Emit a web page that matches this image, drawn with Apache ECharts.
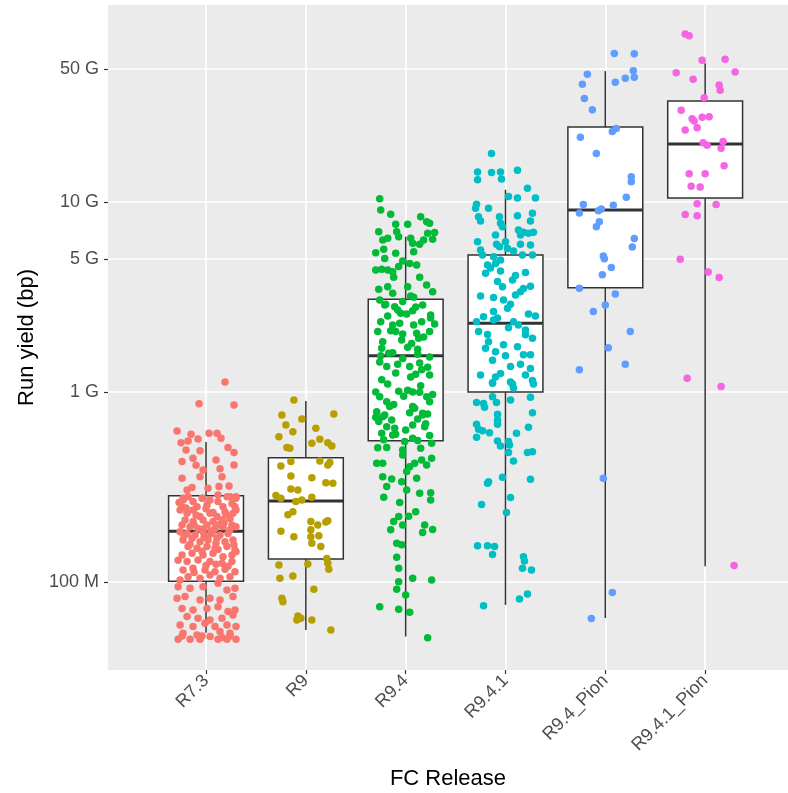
<!DOCTYPE html>
<html><head><meta charset="utf-8">
<script src="https://cdn.jsdelivr.net/npm/echarts@6/dist/echarts.min.js"></script>
<style>html,body{margin:0;padding:0;background:#fff}#c{width:788px;height:793px}</style>
</head><body><div id="c"></div>
<script>
const categories = ['R7.3','R9','R9.4','R9.4.1','R9.4_Pion','R9.4.1_Pion'];
const groupColors = ['#F8766D','#B79F00','#00BA38','#00BFC4','#619CFF','#F564E3'];
const yTickValues = [1e8, 1e9, 5e9, 1e10, 5e10];
const yTickLabels = ['100 M','1 G','5 G','10 G','50 G'];

// box stats in Gbp: [lower whisker, Q1, median, Q3, upper whisker]
const boxR73 = [0.054, 0.101, 0.185, 0.284, 0.546];
const boxR9 = [0.0559, 0.132, 0.267, 0.450, 0.897];
const boxR94 = [0.0516, 0.554, 1.55, 3.08, 6.57];
const boxR941 = [0.0757, 1.0, 2.30, 5.26, 11.6];
const boxR94P = [0.0646, 3.54, 9.08, 24.8, 48.9];
const boxR941P = [0.121, 10.5, 20.2, 34.0, 53.8];

// jittered points: [horizontal jitter (category units), run yield in Gbp]
const ptsR73 = [
[.19,1.13],[-.07,.868],[.28,.854],[-.29,.623],[-.15,.599],[.03,.607],[.11,.607],[-.25,.541],[-.18,.552],[-.08,.566],[.15,.571],[.22,.511],[.28,.48],[-.2,.495],[-.06,.49],[-.13,.448],[-.24,.43],[.1,.439],[.28,.413],[-.1,.411],[-.03,.389],[.14,.394],[-.24,.351],[-.06,.358],[.16,.358],[.02,.311],[.13,.318],[.23,.32],[-.19,.305],[-.14,.314],[-.23,.27],[-.03,.276],[.12,.287],[.24,.281],[.3,.281],
[-.23,.276],[-.18,.281],[-.13,.265],[-.04,.276],[.04,.27],[.12,.265],[.21,.281],[.26,.259],[.3,.276],[-.24,.249],[-.09,.249],[.01,.254],[.17,.249],[.29,.249],
[-.26,.239],[-.19,.23],[-.13,.239],[-.06,.221],[.04,.23],[.11,.221],[.19,.234],[.27,.23],[.3,.239],[-.21,.212],[-.13,.208],[-.03,.212],[.07,.208],[.16,.212],[.24,.216],
[-.24,.1995],[-.16,.1954],[-.08,.1914],[.01,.1995],[.09,.1914],[.17,.1954],[.26,.1995],[.3,.1954],[-.19,.18],[-.11,.1768],[-.03,.184],[.06,.18],[.14,.1768],[.22,.18],[-.26,.184],
[-.23,.1664],[-.14,.17],[-.06,.163],[.02,.1664],[.11,.17],[.19,.163],[.27,.1664],[-.18,.1535],[-.09,.1503],[.01,.1535],[.09,.1503],[.21,.1535],[.29,.147],
[-.24,.1387],[-.14,.1416],[-.03,.1387],[.07,.1416],[.17,.1358],[.26,.1387],[.3,.1444],[-.19,.128],[-.08,.1306],[.04,.128],[.16,.1253],[.26,.128],
[-.23,.1156],[-.13,.118],[-.01,.1156],[.09,.1133],[.19,.1166],[.29,.1133],[-.18,.1066],[-.06,.1045],[.04,.1088],[.14,.1045],[.24,.1066],[-.26,.1025],
[-.27,.262],[-.2,.245],[0,.243],[.2,.226],[-.1,.225],[.13,.2],[-.03,.19],[.05,.186],[.24,.188],[-.22,.175],[.02,.174],[.1,.16],[-.16,.158],[.28,.157],[-.04,.145],[.12,.148],[-.28,.13],[0,.122],[.22,.121],[-.12,.112],[.1,.124],[-.02,.172],[.18,.205],[-.12,.2],[.07,.232],
[-.28,.0945],[-.16,.0926],[-.03,.0945],[.12,.0984],[.21,.0908],[.29,.0926],[-.29,.082],[-.21,.0838],[-.06,.0804],[.04,.082],[.14,.0804],[.27,.0838],[-.24,.0726],[-.13,.0712],[.01,.0726],[.12,.0741],[.22,.0698],[.29,.0712],[-.19,.0657],[-.08,.0644],[.04,.0631],[.16,.0644],[.27,.067],[-.26,.0594],[-.13,.0582],[-.01,.0606],[.09,.0582],[.21,.0594],[.3,.0582],[-.23,.0537],[-.09,.0526],[.04,.0516],[.14,.0548],[.24,.0537],[-.28,.05],[-.16,.05],[-.04,.052],[.16,.051],[.21,.05],[.3,.05],[-.06,.05],[.12,.05],[.24,.052],[-.24,.052]
];
const ptsR9 = [
[-.12,.908],[-.24,.757],[.28,.766],[-.04,.721],[-.2,.67],[-.27,.582],[-.13,.618],[.1,.644],[.14,.564],[.06,.537],[.22,.541],[.26,.52],[-.19,.511],[-.16,.505],[-.25,.408],[-.15,.43],[.14,.433],[.22,.413],[.24,.426],[-.15,.361],[.06,.354],[.2,.333],[.27,.331],[-.15,.309],[-.08,.305],[-.3,.285],[-.25,.276],[-.1,.265],[-.04,.27],[.06,.279],[-.18,.226],[-.13,.234],[-.25,.185],[-.12,.173],[.05,.208],[.12,.1995],[.2,.207],[.22,.21],[.05,.188],[.13,.175],[.05,.173],[.06,.16],[.15,.1535],[.21,.133],[.22,.1253],[.23,.1166],[-.27,.123],[.02,.1244],[-.26,.1045],[-.13,.1076],[.08,.0915],[-.24,.082],[-.23,.0787],[-.08,.0662],[-.09,.0631],[-.05,.0644],[.06,.0631],[.25,.0559]
];
const ptsR94 = [
[-.26,10.4],[-.25,9.08],[-.15,8.61],[.15,8.37],[.21,7.87],[.24,7.72],[-.1,7.63],[.02,7.63],[-.27,6.98],[-.09,6.98],[.29,6.92],[.22,6.84],[-.23,6.31],[-.18,6.44],[.05,6.44],[.18,6.31],[.27,6.37],[-.07,6.57],[.07,6.06],[.14,5.99],[-.22,5.64],[-.3,5.41],[-.1,5.37],[.08,5.47],[-.21,5.05],[-.03,4.89],[.04,4.75],[.11,4.66],[-.3,4.39],[-.24,4.42],[-.18,4.39],[-.13,4.3],[-.07,4.57],[-.12,4.02],[.14,4.02],[.21,3.66],[-.27,3.47],[-.18,3.58],[.02,3.58],[.27,3.37],[-.13,3.31],[.05,3.2],[.08,3.15],[-.26,3.05],[-.21,2.87],[-.11,2.81],[-.03,2.99],[.17,2.87],[-.08,2.7],[.01,2.57],[.07,2.68],[-.18,2.51],[.25,2.54],[-.25,2.34],[-.13,2.25],[-.06,2.3],[.08,2.25],[.16,2.34],[.29,2.28],[-.28,2.08],[-.1,2.08],[-.03,2.02],[.11,2.04],[.24,2.08],[-.23,1.84],[-.04,1.88],[.06,1.8],[.13,1.92],[-.24,1.7],[-.17,1.6],[-.13,1.61],[.24,1.53],[.12,1.68],[-.03,1.5],[-.26,1.44],[.14,1.42],[.04,1.36],[-.19,1.36],[-.1,1.26],[.16,1.31],[.24,1.23],[.1,1.24],[-.24,1.16],[-.07,1.01],[.02,1.02],[.07,1.0],[.14,.996],[-.3,1.0],[-.26,.944],[-.19,.889],[.21,.944],[.24,.889],[.07,.838],[-.16,.838],[-.29,.787],[-.23,.741],[.17,.772],
[-.3,.736],[-.21,.757],[-.14,.712],[.04,.778],[.17,.757],[.22,.766],[-.19,.657],[-.11,.644],[.07,.67],[.19,.657],[-.24,.607],[-.13,.594],[-.01,.548],[.07,.571],[.12,.555],[.26,.537],[-.28,.509],[-.19,.511],[-.03,.495],[.15,.505],[-.03,.466],[-.29,.422],[-.23,.422],[.04,.404],[.09,.422],[.16,.439],[.26,.448],[.21,.413],[.01,.381],[.11,.351],[-.23,.358],[-.14,.348],[-.19,.318],[-.04,.337],[.01,.305],[.14,.293],[.25,.295],[.25,.27],[-.22,.279],[-.06,.262],[.1,.234],[.03,.222],[-.07,.221],[-.12,.208],[-.03,.1995],[.19,.1995],[.27,.189],[.17,.182],[-.15,.188],[-.09,.16],[-.04,.157],[-.09,.1349],[-.07,.118],[-.07,.1004],[.07,.1045],[.26,.1025],[-.09,.0915],[0,.0855],[-.26,.0741],[-.07,.0718],[.04,.0692],[.22,.0509],
[-.2,2.9],[.1,2.8],[-.05,2.6],[.25,2.45],[-.15,2.1],[.18,1.95],[.02,1.72],[-.25,1.55],[.12,1.58],[-.08,1.4],[.22,1.35],[.05,1.2],[-.18,1.1],[.15,1.08],[-.02,.95],[.27,.97],[-.12,.86],[.09,.82],[-.27,.7],[.2,.68],[0,.63],[-.1,.6],[.24,.59],[-.22,.56],[.12,.72]
];
const ptsR941 = [
[-.14,18.0],[-.28,14.4],[-.28,13.1],[-.14,14.3],[-.05,14.4],[-.04,13.2],[.12,14.7],[.22,11.8],[.03,10.7],[.12,10.5],[.3,10.5],[-.29,9.73],[-.3,9.26],[-.17,9.26],[-.27,8.37],[-.25,7.94],[-.06,8.37],[-.05,7.72],[.12,8.47],[.27,8.73],[.25,7.94],[-.03,7.41],[.13,7.12],[.18,6.93],[.23,6.84],[.28,6.93],[-.1,6.7],[.15,6.7],[-.28,6.18],[-.09,5.99],[0,6.18],[.15,5.99],[.25,5.94],[-.06,5.82],[-.25,5.59],[.02,5.7],[.08,5.52],[-.23,5.26],[.17,5.26],[.27,5.26],[-.12,5.15],[-.05,4.95],[-.18,4.66],[-.1,4.75],[-.2,4.22],[-.05,4.34],[.2,4.25],[.07,3.88],[-.08,3.81],[-.03,3.58],[.18,3.51],[.15,3.37],[.1,3.24],[-.12,3.14],[-.02,3.05],[.02,2.76],[-.12,2.65],[.3,2.51],[.23,2.57],[-.22,2.49],[-.29,2.34],[-.12,2.39],[.08,2.34],[.13,2.25],[-.27,2.08],[-.18,2.01],[.03,2.18],[.2,2.12],[.27,1.92],[-.17,1.84],[-.02,1.77],[.12,1.73],[-.1,1.63],[.18,1.57],[.25,1.57],[-.13,1.47],[.05,1.36],[.25,1.33],[-.25,1.23],[-.05,1.25],[.2,1.23],[.05,1.13],[-.13,1.12],
[-.13,1.11],[.07,1.1],[.28,1.1],[-.29,.879],[-.22,.871],[-.21,.83],[-.13,.944],[-.09,.879],[.05,.908],[.25,.938],[-.08,.763],[.27,.778],[-.08,.712],[-.08,.676],[-.29,.676],[-.27,.637],[-.23,.626],[-.29,.578],[-.16,.61],[.23,.652],[.11,.607],[-.08,.552],[-.05,.52],[.03,.548],[.04,.526],[.03,.48],[.08,.433],[.22,.48],[.27,.485],[-.03,.356],[.25,.347],[-.18,.331],[-.17,.337],[.05,.278],[-.24,.256],[.01,.232],[-.28,.155],[-.18,.155],[-.11,.1535],[-.13,.1393],[.18,.1358],[.19,.129],[.17,.118],[.26,.1156],[.14,.0814],[.22,.0865],[-.22,.075],
[-.15,4.5],[.1,4.1],[.25,3.6],[-.25,3.2],[.05,2.9],[-.08,2.45],[.2,2.0],[-.2,1.7],[0,1.55],[.15,1.4],[-.1,1.2],[.27,1.15],[.08,1.05]
];
const ptsR94P = [
[.09,60.5],[.29,60.3],[-.18,47.0],[.28,49.1],[-.23,41.7],[.1,42.7],[.2,44.8],[.29,45.3],[-.21,35.1],[-.13,30.6],[-.25,21.9],[.07,23.5],[.11,24.4],[-.09,18.0],[.26,13.6],[.26,12.8],[.21,10.6],[-.22,9.71],[-.26,8.74],[.08,9.62],[-.07,8.99],[-.04,9.2],[-.06,7.87],[-.09,7.42],[.29,6.42],[.27,5.8],[-.02,5.2],[-.01,5.02],[.06,4.52],[-.03,4.14],[-.26,3.52],[.1,3.28],[0,2.87],[-.12,2.65],[.25,2.08],[.03,1.71],[.2,1.4],[-.26,1.31],[-.02,.352],[.07,.0879],[-.14,.0642]
];
const ptsR941P = [
[-.2,76.6],[-.16,75.0],[-.03,55.7],[.2,56.4],[-.29,47.9],[.3,48.3],[-.12,44.3],[.14,41.3],[.15,38.8],[-.01,35.4],[-.24,30.4],[-.13,27.4],[-.11,26.7],[-.03,27.9],[.04,28.1],[-.2,23.9],[-.08,24.6],[-.02,20.5],[.02,19.9],[.18,20.8],[.16,19.2],[.19,15.5],[-.16,14.1],[0,14.1],[-.14,12.1],[-.05,12.0],[-.08,9.8],[.11,9.71],[-.2,8.59],[-.08,8.47],[-.25,4.99],[.03,4.28],[.14,4.01],[-.18,1.18],[.16,1.07],[.29,.122]
];

const boxes = [boxR73, boxR9, boxR94, boxR941, boxR94P, boxR941P];
const pointGroups = [ptsR73, ptsR9, ptsR94, ptsR941, ptsR94P, ptsR941P];
const G = 1e9;

const boxData = boxes.map((b, i) => [i + 1].concat(b.map(v => v * G)));

function renderBox(params, api) {
  const x = api.value(0);
  const hw = 0.375;
  const pMin = api.coord([x, api.value(1)]);
  const pQ1 = api.coord([x, api.value(2)]);
  const pMed = api.coord([x, api.value(3)]);
  const pQ3 = api.coord([x, api.value(4)]);
  const pMax = api.coord([x, api.value(5)]);
  const left = api.coord([x - hw, api.value(3)])[0];
  const right = api.coord([x + hw, api.value(3)])[0];
  const ls = {stroke: '#333333', lineWidth: 1.5};
  return {type: 'group', children: [
    {type: 'line', shape: {x1: pMin[0], y1: pMin[1], x2: pQ1[0], y2: pQ1[1]}, style: ls},
    {type: 'line', shape: {x1: pQ3[0], y1: pQ3[1], x2: pMax[0], y2: pMax[1]}, style: ls},
    {type: 'rect', shape: {x: left, y: pQ3[1], width: right - left, height: pQ1[1] - pQ3[1]}, style: {fill: '#ffffff', stroke: '#333333', lineWidth: 1.5}},
    {type: 'line', shape: {x1: left, y1: pMed[1], x2: right, y2: pMed[1]}, style: {stroke: '#333333', lineWidth: 3}}
  ]};
}

const series = [{
  type: 'custom', renderItem: renderBox, data: boxData,
  encode: {x: 0, y: [1, 2, 3, 4, 5]}, z: 2, silent: true
}];
pointGroups.forEach((pts, i) => {
  series.push({
    type: 'scatter', z: 3, silent: true,
    symbol: 'circle', symbolSize: 7.5,
    itemStyle: {color: groupColors[i], opacity: 1},
    data: pts.map(p => [i + 1 + p[0], p[1] * G])
  });
});

const FONT = 'Liberation Sans, Arial, sans-serif';
const chart = echarts.init(document.getElementById('c'), null, {renderer: 'canvas'});
chart.setOption({
  animation: false,
  backgroundColor: '#ffffff',
  grid: {left: 108, right: 0, top: 5, bottom: 123, show: true, backgroundColor: '#EBEBEB', borderWidth: 0, containLabel: false, outerBoundsMode: 'none'},
  xAxis: {
    type: 'value', min: 0.018, max: 6.83,
    name: 'FC Release', nameLocation: 'middle', nameGap: 98,
    nameTextStyle: {fontSize: 22, color: '#000', fontFamily: FONT},
    axisLine: {show: false},
    axisTick: {show: true, customValues: [1,2,3,4,5,6], length: 4, lineStyle: {color: '#333333', width: 1.2}},
    axisLabel: {customValues: [1,2,3,4,5,6], rotate: 45, fontSize: 18, color: '#4D4D4D', fontFamily: FONT, margin: 8,
      formatter: v => categories[Math.round(v) - 1] || ''},
    splitLine: {show: true, lineStyle: {color: '#ffffff', width: 1.7}}
  },
  yAxis: {
    type: 'log', logBase: 10, min: 3.44e7, max: 1.089e11,
    name: 'Run yield (bp)', nameLocation: 'middle', nameGap: 70,
    nameTextStyle: {fontSize: 22, color: '#000', fontFamily: FONT},
    axisLine: {show: false},
    axisTick: {show: true, customValues: yTickValues, length: 4, lineStyle: {color: '#333333', width: 1.2}},
    axisLabel: {customValues: yTickValues, fontSize: 18, color: '#4D4D4D', fontFamily: FONT, margin: 9,
      formatter: v => { for (let k = 0; k < yTickValues.length; k++) { if (Math.abs(v / yTickValues[k] - 1) < 1e-3) return yTickLabels[k]; } return ''; }},
    splitLine: {show: true, lineStyle: {color: '#ffffff', width: 1.7}},
    minorSplitLine: {show: false}
  },
  series: series
});
</script></body></html>
